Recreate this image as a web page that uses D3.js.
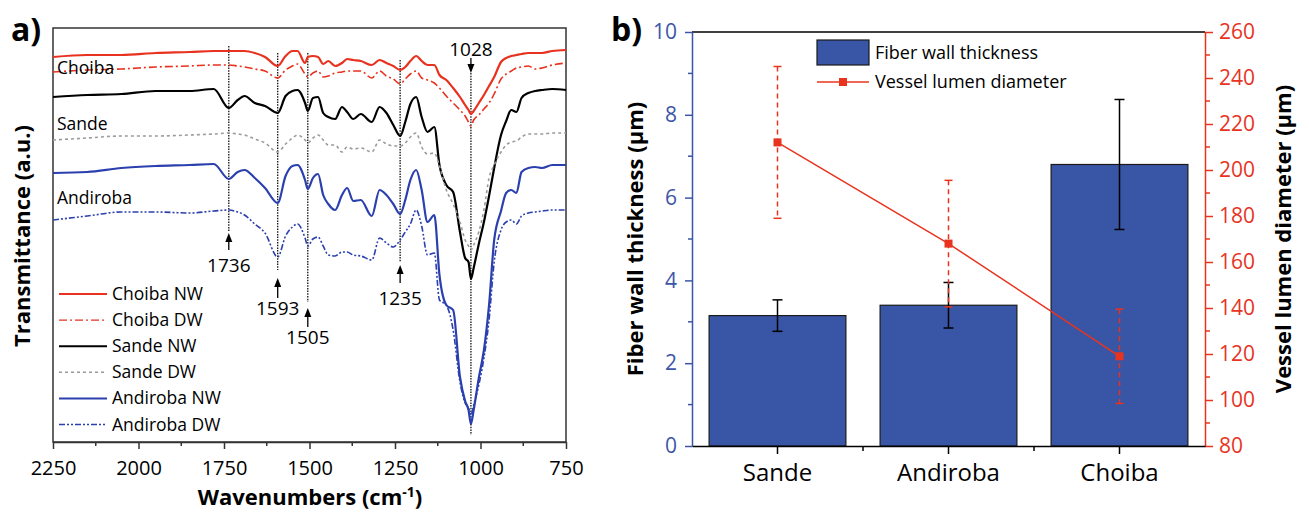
<!DOCTYPE html>
<html>
<head>
<meta charset="utf-8">
<script src="https://cdn.jsdelivr.net/npm/d3@7"></script>
<style>
  body { margin: 0; background: #fff; }
  text { font-family: "Open Sans", sans-serif; }
</style>
</head>
<body>
<script>
// ---- panel a: FTIR spectra (transmittance, arbitrary units with offsets)
const wavenumbers = [2250, 2150, 2050, 1950, 1850, 1780, 1736, 1710, 1690, 1660, 1630, 1593, 1570, 1550, 1535,
  1513, 1505, 1490, 1475, 1460, 1445, 1425, 1405, 1390, 1372, 1350, 1318, 1295, 1275, 1255, 1235, 1220, 1205,
  1188, 1172, 1155, 1135, 1120, 1100, 1080, 1060, 1045, 1035, 1028, 1020, 1005, 990, 975, 960, 940, 925, 910,
  895, 880, 860, 840, 820, 790, 750];

const choibaNW = [3.85, 3.87, 3.87, 3.89, 3.90, 3.91, 3.91, 3.91, 3.91, 3.89, 3.85, 3.76, 3.86, 3.91, 3.91,
  3.79, 3.85, 3.86, 3.85, 3.78, 3.81, 3.76, 3.79, 3.83, 3.82, 3.81, 3.77, 3.82, 3.79, 3.76, 3.72, 3.75, 3.81,
  3.86, 3.81, 3.77, 3.77, 3.67, 3.62, 3.54, 3.45, 3.37, 3.32, 3.28, 3.31, 3.39, 3.47, 3.56, 3.65, 3.80, 3.84, 3.86,
  3.87, 3.88, 3.89, 3.89, 3.89, 3.91, 3.92];
const choibaDW = [3.70, 3.72, 3.73, 3.75, 3.76, 3.77, 3.77, 3.76, 3.75, 3.73, 3.71, 3.64, 3.72, 3.76, 3.78,
  3.68, 3.65, 3.69, 3.71, 3.65, 3.66, 3.69, 3.70, 3.71, 3.71, 3.71, 3.64, 3.71, 3.66, 3.63, 3.58, 3.63, 3.68,
  3.71, 3.64, 3.62, 3.59, 3.54, 3.46, 3.39, 3.32, 3.26, 3.20, 3.16, 3.22, 3.27, 3.33, 3.39, 3.48, 3.63, 3.68, 3.71,
  3.74, 3.75, 3.76, 3.73, 3.74, 3.77, 3.79];
const sandeNW = [3.45, 3.47, 3.48, 3.51, 3.51, 3.53, 3.34, 3.42, 3.46, 3.39, 3.36, 3.29, 3.46, 3.51, 3.52,
  3.39, 3.31, 3.44, 3.45, 3.29, 3.25, 3.23, 3.35, 3.30, 3.23, 3.28, 3.20, 3.35, 3.29, 3.17, 3.06, 3.20, 3.38,
  3.45, 3.25, 3.10, 3.15, 2.77, 2.57, 2.50, 2.10, 1.84, 1.80, 1.63, 1.74, 1.98, 2.20, 2.46, 2.74, 3.07, 3.21, 3.32,
  3.30, 3.44, 3.49, 3.51, 3.52, 3.53, 3.52];
const sandeDW = [3.02, 3.04, 3.06, 3.06, 3.07, 3.08, 3.09, 3.08, 3.07, 3.03, 2.99, 2.90, 2.98, 3.04, 3.07,
  3.02, 2.99, 3.04, 3.07, 3.02, 2.97, 2.97, 2.90, 2.95, 2.93, 2.94, 2.90, 3.02, 2.98, 2.96, 2.96, 2.99, 3.05,
  3.09, 2.95, 2.88, 2.89, 2.76, 2.52, 2.38, 2.20, 2.02, 1.96, 1.92, 1.97, 2.10, 2.32, 2.64, 2.77, 2.90, 2.97, 3.00,
  3.01, 3.05, 3.08, 3.08, 3.08, 3.09, 3.09];
const andirobaNW = [2.69, 2.70, 2.74, 2.76, 2.77, 2.78, 2.63, 2.70, 2.72, 2.64, 2.54, 2.39, 2.66, 2.76, 2.77,
  2.62, 2.53, 2.64, 2.68, 2.47, 2.38, 2.32, 2.47, 2.54, 2.41, 2.42, 2.26, 2.52, 2.47, 2.38, 2.28, 2.42, 2.62,
  2.72, 2.52, 2.20, 2.27, 1.67, 1.37, 1.32, 0.65, 0.41, 0.32, 0.18, 0.32, 0.64, 0.92, 1.37, 2.02, 2.31, 2.49, 2.52,
  2.49, 2.70, 2.74, 2.75, 2.74, 2.77, 2.77];
const andirobaDW = [2.22, 2.26, 2.30, 2.30, 2.29, 2.31, 2.32, 2.30, 2.27, 2.18, 2.09, 1.85, 2.06, 2.15, 2.18,
  2.04, 1.96, 2.03, 2.05, 1.96, 1.87, 1.86, 1.90, 1.90, 1.87, 1.86, 1.82, 2.04, 1.99, 1.95, 2.02, 2.10, 2.18,
  2.32, 2.16, 1.87, 1.89, 1.42, 1.37, 1.12, 0.60, 0.39, 0.34, 0.27, 0.37, 0.57, 0.84, 1.22, 1.80, 2.12, 2.20, 2.22,
  2.18, 2.26, 2.29, 2.30, 2.31, 2.32, 2.32];

const spectraNames = ["Choiba NW", "Choiba DW", "Sande NW", "Sande DW", "Andiroba NW", "Andiroba DW"];
const spectraValues = [choibaNW, choibaDW, sandeNW, sandeDW, andirobaNW, andirobaDW];
const spectraColors = ["#e8311e", "#e8311e", "#000000", "#9a9a9a", "#2b40ae", "#2b40ae"];
const spectraDash = [null, "8,3,2,3", null, "3,3", null, "6,2,2,2,2,2"];
const xTicksA = [2250, 2000, 1750, 1500, 1250, 1000, 750];

// peak annotations (wavenumber, dotted line top/bottom, arrow tip/tail, label baseline, all in a.u.)
const peaks = [1736, 1593, 1505, 1235, 1028];
const peakTop = [3.96, 3.89, 3.89, 3.82, 3.69];
const peakBottom = [2.10, 1.72, 1.40, 1.80, 0.07];
const arrowTip = [2.09, 1.64, 1.34, 1.77, 3.69];
const arrowTail = [1.92, 1.44, 1.15, 1.59, 3.84];
const labelBase = [1.70, 1.27, 0.98, 1.37, 3.86];

const woodLabels = ["Choiba", "Sande", "Andiroba"];
const woodLabelLevel = [3.68, 3.12, 2.38];

// ---- panel b: anatomy
const woods = ["Sande", "Andiroba", "Choiba"];
const fiberWall = [3.15, 3.40, 6.80];
const fiberWallErr = [0.38, 0.55, 1.57];
const vesselLumen = [212, 168, 119];
const vesselLumenErr = [33, 27.5, 20.5];

const W = 1309, H = 516;
const svg = d3.select("body").append("svg").attr("width", W).attr("height", H);

// ================= panel a =================
const xA = d3.scaleLinear().domain([2250, 750]).range([53, 566]);
const yA = d3.scaleLinear().domain([0, 4.14]).range([442, 28]);

const gA = svg.append("g");
gA.append("rect")
  .attr("x", 53).attr("y", 28).attr("width", 513).attr("height", 414)
  .attr("fill", "none").attr("stroke", "#333").attr("stroke-width", 1.5);

// dotted peak lines
gA.selectAll(".peakline")
  .data(peaks)
  .enter()
  .append("line")
  .attr("x1", d => xA(d)).attr("x2", d => xA(d))
  .attr("y1", (d, i) => yA(peakTop[i]))
  .attr("y2", (d, i) => yA(peakBottom[i]))
  .attr("stroke", "#111").attr("stroke-width", 1.3).attr("stroke-dasharray", "1.5,1.2");

const line = d3.line()
  .x((d, i) => xA(wavenumbers[i]))
  .y(d => yA(d))
  .curve(d3.curveMonotoneX);

gA.selectAll(".spectrum")
  .data(spectraValues)
  .enter()
  .append("path")
  .attr("d", d => line(d))
  .attr("fill", "none")
  .attr("stroke", (d, i) => spectraColors[i])
  .attr("stroke-width", (d, i) => spectraDash[i] ? 1.6 : 2.2)
  .attr("stroke-dasharray", (d, i) => spectraDash[i]);

// arrows
peaks.forEach(function(p, i) {
  const x = xA(p), tip = yA(arrowTip[i]), tail = yA(arrowTail[i]);
  const dir = tail > tip ? 1 : -1;
  gA.append("line")
    .attr("x1", x).attr("x2", x).attr("y1", tail).attr("y2", tip + dir * 8)
    .attr("stroke", "#000").attr("stroke-width", 1.3);
  gA.append("path")
    .attr("d", "M" + x + "," + tip + "L" + (x - 3.5) + "," + (tip + dir * 9) + "L" + (x + 3.5) + "," + (tip + dir * 9) + "Z")
    .attr("fill", "#000");
  gA.append("text")
    .attr("x", x).attr("y", yA(labelBase[i]))
    .attr("text-anchor", "middle")
    .attr("font-size", 19)
    .text(p);
});

gA.selectAll(".wood")
  .data(woodLabels)
  .enter()
  .append("text")
  .attr("x", 57)
  .attr("y", (d, i) => yA(woodLabelLevel[i]))
  .attr("font-size", 17.5)
  .text(d => d);

// legend a
const legA = gA.append("g").attr("transform", "translate(59,294)");
spectraNames.forEach(function(n, i) {
  const y = i * 26.1;
  legA.append("line")
    .attr("x1", 0).attr("x2", 48).attr("y1", y).attr("y2", y)
    .attr("stroke", spectraColors[i])
    .attr("stroke-width", spectraDash[i] ? 1.4 : 2)
    .attr("stroke-dasharray", spectraDash[i]);
  legA.append("text")
    .attr("x", 53).attr("y", y + 6)
    .attr("font-size", 17.5)
    .text(n);
});

// x axis a
const xAxisA = d3.axisBottom(xA).tickValues(xTicksA).tickFormat(d3.format("d"))
  .tickSize(7).tickSizeOuter(0).tickPadding(12);
const axA = gA.append("g").attr("transform", "translate(0,442)").call(xAxisA);
axA.select(".domain").attr("stroke", "#333").attr("stroke-width", 1.5);
axA.selectAll(".tick line").attr("stroke", "#333").attr("stroke-width", 1.5);
axA.selectAll("text").attr("font-size", 20).attr("fill", "#000").attr("font-family", "Open Sans, sans-serif");
const minorA = d3.range(2125, 750, -250);
gA.append("g").attr("transform", "translate(0,442)")
  .selectAll("line").data(minorA).enter().append("line")
  .attr("x1", d => xA(d)).attr("x2", d => xA(d)).attr("y1", 0).attr("y2", 4)
  .attr("stroke", "#333").attr("stroke-width", 1.5);

const xTitleA = gA.append("text")
  .attr("x", 310).attr("y", 505)
  .attr("text-anchor", "middle")
  .attr("font-size", 22).attr("font-weight", "bold");
xTitleA.append("tspan").text("Wavenumbers (cm");
xTitleA.append("tspan").attr("dy", -8).attr("font-size", 14).text("-1");
xTitleA.append("tspan").attr("dy", 8).text(")");

gA.append("text")
  .attr("transform", "translate(30,236) rotate(-90)")
  .attr("text-anchor", "middle")
  .attr("font-size", 22).attr("font-weight", "bold")
  .text("Transmittance (a.u.)");

svg.append("text").attr("x", 11).attr("y", 41)
  .attr("font-size", 32).attr("font-weight", "bold").text("a)");

// ================= panel b =================
const blue = "#3b56a8", red = "#e8341f";
const xB = d3.scaleBand().domain(woods).range([692, 1205]).paddingInner(0.2).paddingOuter(0.1);
const yL = d3.scaleLinear().domain([0, 10]).range([446, 32]);
const yR = d3.scaleLinear().domain([80, 260]).range([446, 32]);

const gB = svg.append("g");

gB.append("line").attr("x1", 692).attr("x2", 1205).attr("y1", 32).attr("y2", 32)
  .attr("stroke", "#000").attr("stroke-width", 1.5);

gB.selectAll(".bar")
  .data(fiberWall)
  .enter()
  .append("rect")
  .attr("x", (d, i) => xB(woods[i]))
  .attr("y", d => yL(d))
  .attr("width", xB.bandwidth())
  .attr("height", d => yL(0) - yL(d))
  .attr("fill", "#3955a6")
  .attr("stroke", "#1a1a1a").attr("stroke-width", 1.2);

// fiber wall error bars
fiberWall.forEach(function(v, i) {
  const cx = xB(woods[i]) + xB.bandwidth() / 2;
  const top = yL(v + fiberWallErr[i]), bot = yL(v - fiberWallErr[i]);
  gB.append("line").attr("x1", cx).attr("x2", cx).attr("y1", top).attr("y2", bot)
    .attr("stroke", "#000").attr("stroke-width", 1.5);
  [top, bot].forEach(function(y) {
    gB.append("line").attr("x1", cx - 5).attr("x2", cx + 5).attr("y1", y).attr("y2", y)
      .attr("stroke", "#000").attr("stroke-width", 1.5);
  });
});

// vessel lumen line
const lineB = d3.line()
  .x((d, i) => xB(woods[i]) + xB.bandwidth() / 2)
  .y(d => yR(d));
gB.append("path").attr("d", lineB(vesselLumen))
  .attr("fill", "none").attr("stroke", red).attr("stroke-width", 1.5);

vesselLumen.forEach(function(v, i) {
  const cx = xB(woods[i]) + xB.bandwidth() / 2;
  const top = yR(v + vesselLumenErr[i]), bot = yR(v - vesselLumenErr[i]);
  gB.append("line").attr("x1", cx).attr("x2", cx).attr("y1", top).attr("y2", bot)
    .attr("stroke", red).attr("stroke-width", 1.5).attr("stroke-dasharray", "5,4");
  [top, bot].forEach(function(y) {
    gB.append("line").attr("x1", cx - 4).attr("x2", cx + 4).attr("y1", y).attr("y2", y)
      .attr("stroke", red).attr("stroke-width", 1.5);
  });
  gB.append("rect").attr("x", cx - 4).attr("y", yR(v) - 4).attr("width", 8).attr("height", 8)
    .attr("fill", red);
});

// axes b
const axL = gB.append("g").attr("transform", "translate(692,0)")
  .call(d3.axisLeft(yL).tickValues([0, 2, 4, 6, 8, 10]).tickSize(7).tickSizeOuter(0).tickPadding(8));
axL.select(".domain").attr("stroke", blue).attr("stroke-width", 1.5);
axL.selectAll(".tick line").attr("stroke", blue).attr("stroke-width", 1.5);
axL.selectAll("text").attr("font-size", 21).attr("fill", blue).attr("font-family", "Open Sans, sans-serif");
axL.selectAll(".minor").data([1, 3, 5, 7, 9]).enter().append("line")
  .attr("x1", 0).attr("x2", -4).attr("y1", d => yL(d)).attr("y2", d => yL(d))
  .attr("stroke", blue).attr("stroke-width", 1.5);

const axR = gB.append("g").attr("transform", "translate(1205,0)")
  .call(d3.axisRight(yR).tickValues(d3.range(80, 261, 20)).tickSize(8).tickSizeOuter(0).tickPadding(6));
axR.select(".domain").attr("stroke", red).attr("stroke-width", 1.5);
axR.selectAll(".tick line").attr("stroke", red).attr("stroke-width", 1.5);
axR.selectAll("text").attr("font-size", 21).attr("fill", red).attr("font-family", "Open Sans, sans-serif");
axR.selectAll(".minor").data(d3.range(90, 260, 20)).enter().append("line")
  .attr("x1", 0).attr("x2", 5).attr("y1", d => yR(d)).attr("y2", d => yR(d))
  .attr("stroke", red).attr("stroke-width", 1.5);

const axX = gB.append("g").attr("transform", "translate(0,446)")
  .call(d3.axisBottom(xB).tickSize(8).tickSizeOuter(0).tickPadding(10));
axX.select(".domain").attr("stroke", "#000").attr("stroke-width", 1.5);
axX.selectAll(".tick line").attr("stroke", "#000").attr("stroke-width", 1.5);
axX.selectAll("text").attr("font-size", 24).attr("fill", "#000").attr("font-family", "Open Sans, sans-serif");
axX.selectAll(".minor").data(woods.slice(1)).enter().append("line")
  .attr("x1", d => xB(d) - xB.step() * 0.1).attr("x2", d => xB(d) - xB.step() * 0.1)
  .attr("y1", 0).attr("y2", 5)
  .attr("stroke", "#000").attr("stroke-width", 1.5);

gB.append("text")
  .attr("transform", "translate(643,239) rotate(-90)")
  .attr("text-anchor", "middle")
  .attr("font-size", 22).attr("font-weight", "bold")
  .text("Fiber wall thickness (μm)");
gB.append("text")
  .attr("transform", "translate(1291,239) rotate(-90)")
  .attr("text-anchor", "middle")
  .attr("font-size", 22).attr("font-weight", "bold")
  .text("Vessel lumen diameter (μm)");

// legend b
const legB = gB.append("g").attr("transform", "translate(817,40)");
legB.append("rect").attr("x", 0).attr("y", 0).attr("width", 52).attr("height", 25)
  .attr("fill", "#3955a6").attr("stroke", "#1a1a1a").attr("stroke-width", 1.2);
legB.append("text").attr("x", 58).attr("y", 19).attr("font-size", 18).text("Fiber wall thickness");
legB.append("line").attr("x1", 0).attr("x2", 52).attr("y1", 42).attr("y2", 42)
  .attr("stroke", red).attr("stroke-width", 1.5);
legB.append("rect").attr("x", 22).attr("y", 38).attr("width", 8).attr("height", 8).attr("fill", red);
legB.append("text").attr("x", 58).attr("y", 48).attr("font-size", 18).text("Vessel lumen diameter");

svg.append("text").attr("x", 611).attr("y", 41)
  .attr("font-size", 32).attr("font-weight", "bold").text("b)");
</script>
</body>
</html>
